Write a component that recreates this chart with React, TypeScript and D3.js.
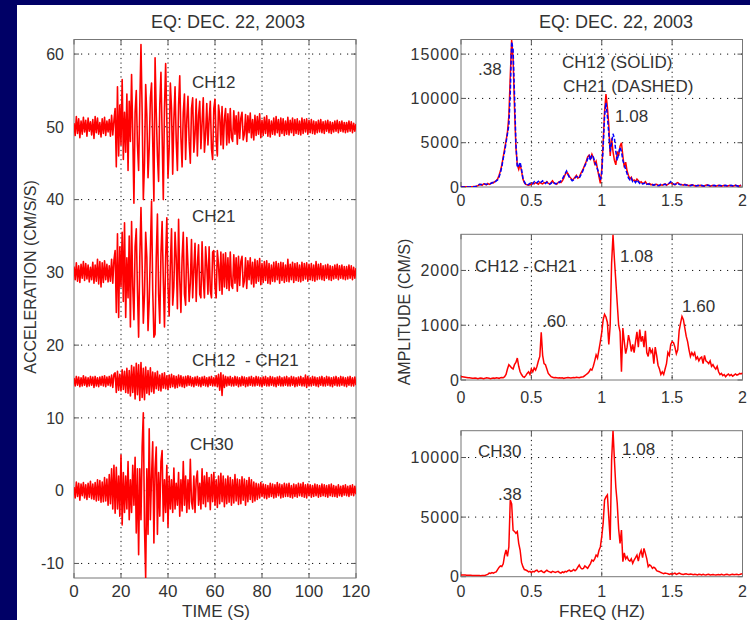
import React from "react";
import * as d3 from "d3";

// ---------- DATA ----------
const timeStep = 0.5; // seconds between samples
const freqStep = 0.01; // Hz between spectral samples

const traceNames = ["CH12", "CH21", "CH12  - CH21", "CH30"];
const traceOffsets = [50, 30, 15, 0];

const ch12 = [
  0.5,-1.2,1.4,-0.9,1.1,-1.5,0.8,-1.0,1.3,-0.7,
  0.9,-1.3,1.2,-0.6,0.7,-1.1,1.0,-1.6,1.4,-0.8,
  1.2,-1.0,0.6,-1.4,1.1,-0.9,1.3,-1.2,0.8,-0.7,
  1.0,-1.3,1.6,-1.1,0.9,
  2.5,-5.5,5.5,-4.0,3.0,-2.5,6.5,-4.5,2.0,-3.5,
  4.5,-6.0,3.5,-2.0,7.2,-1.0,-10.5,2.0,5.0,-2.5,
  -6.0,3.0,11.3,2.0,-10.0,-5.0,5.8,1.5,-7.0,-3.0,
  4.0,6.0,-2.0,-10.2,9.5,2.0,-4.0,-7.5,3.0,7.5,
  -1.0,-10.0,2.5,8.7,1.0,-7.0,-3.0,6.0,2.5,-6.5,
  1.0,5.5,-2.0,-6.0,3.0,7.0,-1.5,-5.5,2.0,4.5,
  -4.5,1.0,4.2,-2.0,-5.0,2.5,4.0,-3.5,-1.0,3.8,
  -4.0,1.5,3.5,-3.0,0.5,4.0,-3.5,-1.0,3.2,-2.5,
  1.0,3.5,-3.0,-4.5,2.5,3.8,-2.0,-4.0,3.0,1.5,
  -2.5,2.8,-3.0,1.0,2.5,-2.5,
  1.8,-2.2,2.5,-1.5,-2.0,2.2,-1.0,1.5,-2.4,2.0,
  -1.6,1.2,2.0,-1.8,-1.0,1.7,-2.0,1.5,-0.8,1.9,
  -1.5,1.0,-1.8,1.6,-1.2,1.4,-1.0,1.8,-1.5,0.9,
  -1.2,1.3,-0.9,1.5,-1.3,1.0,-1.4,0.8,-1.0,1.2,
  -1.1,1.4,-0.8,1.0,-1.3,1.2,-0.9,1.1,-1.2,0.8,
  -1.0,1.3,-1.1,0.9,-0.8,1.2,-1.2,1.0,-0.9,1.1,
  -1.0,0.8,-1.1,1.2,-0.9,1.0,-0.7,1.1,-1.0,0.9,
  -0.8,1.0,-0.9,0.8,-1.0,0.7,-0.8,0.9,-0.7,1.0,
  -0.8,0.7,-0.9,0.8,-0.6,0.9,-0.8,0.7,-0.9,0.6,
  -0.7,0.8,-0.6,0.9,-0.8,0.7,-0.6,0.8,-0.7,0.6,
  -0.8,0.6,-0.7,0.8,-0.6,0.7,-0.8,0.5,-0.6,0.4,
];

const ch21 = [
  0.8,-1.0,1.3,-1.2,0.9,-1.4,1.1,-0.8,1.5,-1.1,
  1.2,-0.9,1.0,-1.3,0.7,-1.0,1.4,-1.5,1.0,-1.2,
  1.8,-1.6,1.5,-2.0,1.3,-1.4,1.6,-1.0,1.1,-1.3,
  0.9,-1.2,1.8,-1.5,1.7,
  3.0,-5.5,5.3,-6.2,3.5,-2.0,5.5,-4.0,6.8,-6.2,
  2.0,-3.5,5.0,-7.5,7.0,-2.0,-6.5,3.5,6.0,-2.5,
  -8.9,2.0,8.9,1.0,-7.0,-3.0,5.5,2.0,-8.0,-4.0,
  3.0,9.8,-2.5,-8.9,-8.5,2.0,8.0,-3.0,-7.0,2.5,
  7.0,-1.0,-7.5,2.0,7.5,-2.0,-6.0,1.0,6.0,-4.5,
  -2.0,5.5,2.0,-5.0,7.3,-1.0,-5.5,2.0,5.5,-3.0,
  -4.5,4.8,1.0,-4.0,-1.5,4.5,-3.5,0.5,4.0,-4.0,
  1.0,3.8,-3.0,-3.5,4.2,-1.0,-3.5,3.5,1.0,-3.0,
  3.5,-2.5,-3.5,2.8,3.0,-2.0,-3.5,3.0,1.0,-2.5,
  2.8,-3.0,2.5,-2.0,2.7,-2.2,
  2.0,-2.5,2.8,-1.8,-2.2,2.4,-1.5,2.0,-2.6,2.2,
  -1.8,1.5,2.2,-2.0,-1.2,2.0,-2.2,1.6,-1.0,2.0,
  -1.6,1.4,-2.0,1.8,-1.5,1.6,-1.2,1.9,-1.7,1.2,
  -1.4,1.5,-1.1,1.6,-1.5,1.2,-1.6,1.0,-1.2,1.4,
  -1.3,1.5,-1.0,1.2,-1.5,1.4,-1.1,1.3,-1.4,1.0,
  -1.2,1.8,-1.3,1.1,-1.0,1.4,-1.4,1.2,-1.1,1.3,
  -1.2,1.0,-1.3,1.4,-1.1,1.2,-0.9,1.3,-1.2,1.1,
  -1.0,1.2,-1.1,1.0,-1.2,1.5,-1.0,1.1,-0.9,1.2,
  -1.0,0.9,-1.1,1.0,-0.8,1.1,-1.0,0.9,-1.1,0.8,
  -0.9,1.0,-0.8,1.1,-1.0,0.9,-0.8,1.0,-0.9,0.8,
  -1.0,0.8,-0.9,1.0,-0.8,0.9,-1.0,0.7,-0.8,0.6,
];

const ch12MinusCh21 = [
  0.5,-0.6,0.7,-0.5,0.6,-0.7,0.5,-0.6,0.8,-0.5,
  0.6,-0.7,0.5,-0.6,0.7,-0.5,0.6,-0.8,0.7,-0.6,
  0.5,-0.7,0.6,-0.5,0.7,-0.6,0.8,-0.7,0.6,-0.5,
  0.7,-0.6,0.9,-0.8,1.0,
  1.2,-1.5,1.4,-1.2,1.0,-1.3,1.6,-1.1,1.4,-1.5,
  1.8,-1.6,1.5,-2.0,2.2,-1.5,2.0,-2.4,2.5,-1.8,
  2.3,-2.6,2.6,-2.2,1.8,-2.5,2.0,-1.6,1.5,-1.8,
  1.9,-1.4,1.3,-1.6,1.2,-1.0,1.4,-1.2,0.9,-1.3,
  1.1,-0.9,1.2,-1.0,0.8,-1.1,0.9,-0.8,1.0,-0.7,
  0.8,-0.9,0.7,-0.8,0.9,-0.6,0.8,-0.7,0.6,-0.8,
  0.7,-0.6,0.8,-0.5,0.7,-0.6,0.5,-0.7,0.6,-0.5,
  0.7,-0.6,0.5,-0.7,0.6,-0.5,0.7,-0.6,0.5,-0.7,
  0.6,-0.5,0.7,-0.6,0.5,-0.6,0.8,-0.7,1.0,-1.2,
  1.2,-1.9,0.9,-0.8,0.7,-0.6,
  0.6,-0.5,0.7,-0.6,0.5,-0.6,0.7,-0.5,0.6,-0.7,
  0.5,-0.6,0.7,-0.5,0.6,-0.7,0.5,-0.6,0.6,-0.5,
  0.7,-0.6,0.5,-0.6,0.7,-0.5,0.6,-0.6,0.5,-0.7,
  0.6,-0.5,0.7,-0.6,0.5,-0.6,0.7,-0.5,0.6,-0.6,
  0.5,-0.7,0.6,-0.5,0.7,-0.6,0.5,-0.6,0.6,-0.5,
  0.7,-0.6,0.5,-0.6,0.7,-0.5,0.6,-0.7,0.5,-0.6,
  0.6,-0.5,0.7,-0.6,0.5,-0.6,0.9,-0.8,0.7,-0.6,
  0.5,-0.6,0.7,-0.5,0.6,-0.6,0.5,-0.7,0.6,-0.5,
  0.7,-0.6,0.5,-0.6,0.7,-0.5,0.6,-0.6,0.5,-0.7,
  0.6,-0.5,0.7,-0.6,0.5,-0.6,0.7,-0.5,0.6,-0.6,
  0.5,-0.7,0.6,-0.5,0.7,-0.6,0.5,-0.6,0.6,-0.5,
];

const ch30 = [
  0.5,-1.0,1.2,-0.8,1.0,-1.3,0.9,-0.7,1.1,-1.0,
  0.8,-1.2,1.0,-0.9,1.3,-1.1,0.9,-1.2,1.1,-1.4,
  1.5,-1.3,1.4,-1.6,1.2,-1.5,1.8,-1.4,1.6,-2.0,
  2.2,-1.8,3.0,-2.5,3.5,
  -3.1,3.2,-2.5,2.0,-3.5,4.9,-4.7,2.5,-3.0,2.0,
  -2.5,4.0,-4.0,1.5,-3.0,3.5,-2.0,4.6,-5.8,3.0,
  -8.8,3.0,-4.0,6.0,10.7,-5.0,-12.0,3.0,-6.0,8.5,
  -4.0,2.0,6.7,-7.2,3.0,6.0,-6.0,2.5,-3.5,4.0,
  5.5,-4.2,1.5,-3.0,3.5,-5.0,2.0,-2.5,1.5,-3.0,
  3.1,-2.5,1.0,-2.0,2.5,-3.5,1.5,-2.8,4.0,-2.0,
  2.0,-3.0,1.5,-2.5,4.3,-1.5,-2.5,2.0,-3.0,1.5,
  2.7,-2.0,1.0,-2.5,3.0,-1.8,2.0,-2.2,2.5,-1.5,
  1.8,-2.6,2.2,-1.5,2.5,-2.0,1.5,-2.3,2.0,-1.8,
  2.4,-1.5,2.0,-2.2,1.6,-1.8,
  2.0,-1.6,1.8,-2.0,1.5,-1.7,2.2,-1.4,1.6,-1.9,
  1.5,-1.8,1.9,-1.3,1.6,-2.0,1.4,-1.5,1.8,-1.2,
  1.5,-1.6,1.2,-1.4,1.0,-1.2,0.9,-1.0,1.1,-0.8,
  0.9,-1.0,0.8,-1.1,0.7,-0.9,1.0,-0.8,0.9,-1.0,
  0.8,-0.9,1.1,-0.7,0.9,-1.0,0.8,-0.9,1.0,-0.8,
  0.9,-0.8,1.0,-0.9,0.7,-1.0,0.9,-0.8,0.8,-0.9,
  1.0,-0.7,0.9,-0.8,1.1,-0.9,0.8,-1.0,0.9,-0.7,
  0.8,-0.9,0.7,-0.8,0.9,-0.7,0.8,-0.9,0.7,-0.8,
  0.9,-0.7,0.8,-0.8,0.7,-0.9,0.8,-0.7,0.9,-0.8,
  0.7,-0.8,0.6,-0.9,0.8,-0.7,0.6,-0.8,0.7,-0.6,
  0.8,-0.7,0.6,-0.8,0.7,-0.6,0.8,-0.7,0.6,-0.5,
];

// Fourier amplitude spectra, 0.00 .. 2.00 Hz
const specCh12 = [
  50,40,30,30,40,30,20,30,40,50,60,
  80,150,250,300,200,350,300,250,400,300,
  350,500,450,600,700,900,1300,1800,2500,3400,
  4300,5200,6200,8000,12500,16600,14500,9000,4500,2500,
  2000,2600,1800,900,500,300,250,200,250,300,
  450,350,500,400,300,550,400,350,500,450,
  600,400,350,500,700,450,400,300,500,600,
  500,700,1000,1400,1700,1500,1200,1000,800,900,
  1100,1300,1000,1100,1500,1800,2100,2500,2900,3400,
  3600,3200,3700,3300,2600,2900,2000,1200,400,2000,
  5000,8500,10500,9000,7000,3500,5500,4000,3000,2500,
  4000,3500,4600,5000,3500,2200,2800,1800,1300,900,
  1100,700,800,600,900,700,500,600,400,450,
  600,350,300,400,250,300,200,250,300,200,
  150,250,200,300,350,200,300,400,500,350,
  300,250,400,500,350,300,250,200,300,250,
  200,150,200,250,200,150,100,200,150,200,
  150,100,150,200,250,150,100,150,200,150,
  100,150,200,150,100,150,200,150,100,150,
  200,150,100,150,200,150,100,150,200,
];

const specCh21 = [
  0,0,10,10,20,10,10,20,30,40,50,
  100,200,300,250,300,400,350,300,300,350,
  400,450,550,500,700,800,1100,1600,2300,3200,
  4000,5000,6000,7000,10500,16400,15500,10500,5000,2200,
  2400,2800,2000,1000,600,300,200,300,400,500,
  350,600,400,500,650,450,550,700,500,400,
  550,450,300,400,600,500,350,400,600,500,
  700,900,1200,1500,1800,1400,1100,900,700,800,
  1000,1200,1100,1000,1300,1600,2000,2400,2700,3200,
  3500,3000,3600,3400,2800,2500,2000,1500,800,1500,
  4500,8000,9500,8000,6000,4000,5000,6000,5500,4000,
  3000,3800,4500,4000,3000,2500,2000,1500,1000,800,
  1000,600,700,500,800,600,400,500,350,400,
  500,300,350,300,200,250,200,300,250,150,
  200,300,250,250,300,250,350,450,600,400,
  350,300,350,450,300,250,300,250,250,200,
  250,200,150,200,250,200,150,150,200,150,
  200,150,100,150,200,200,150,100,150,200,
  150,100,150,200,150,100,150,200,150,100,
  150,200,150,100,200,150,100,150,250,
];

const specDiff = [
  60,60,55,50,45,40,40,35,30,30,35,
  30,25,30,35,30,25,30,40,35,30,
  25,30,35,30,40,35,30,40,45,40,
  60,100,200,280,250,220,200,280,320,400,
  250,150,100,60,50,80,120,150,100,200,
  150,220,180,250,350,430,870,450,300,280,
  200,120,90,60,50,40,45,40,35,40,
  35,40,30,35,40,45,40,35,40,45,
  40,50,45,40,50,55,60,80,100,120,
  150,200,180,250,350,460,400,550,700,870,
  1100,1200,1150,1050,650,1000,2130,2650,2200,1800,
  1400,1000,880,150,950,700,480,600,820,700,
  520,650,500,700,880,600,920,700,800,600,
  900,500,430,600,500,550,300,600,450,270,
  200,100,150,100,200,300,500,450,650,700,
  680,600,480,550,900,1040,1160,1100,950,800,
  700,550,430,500,450,500,380,420,350,400,
  420,300,450,350,330,300,350,250,280,230,
  200,250,150,100,120,80,100,60,90,110,
  80,100,70,90,110,90,100,120,110,130,
];

const specCh30 = [
  150,150,140,140,130,130,120,120,110,110,100,
  100,110,100,90,100,110,100,150,200,300,
  280,350,300,360,400,600,780,900,850,1080,
  1800,2240,1700,2500,6440,6100,3900,3800,3640,3780,
  2800,2240,1200,840,600,560,500,400,450,350,
  450,400,500,550,400,450,500,400,350,450,
  550,450,400,350,450,400,350,400,450,350,
  300,400,350,450,400,500,550,450,500,600,
  500,600,800,980,750,650,700,900,800,700,
  900,1100,1400,1300,1500,1820,1700,2200,2500,3360,
  4500,6440,6700,6860,5000,3080,9800,12270,9800,7500,
  6160,4000,2800,3920,1260,2000,1500,1680,1400,1300,
  1500,1120,1400,1600,1820,1300,1900,2200,1600,2380,
  1960,1500,840,1000,900,700,800,700,500,450,
  420,350,300,250,300,280,250,200,250,220,
  250,300,200,250,300,250,200,180,220,250,
  200,180,220,200,170,200,180,150,200,180,
  150,200,170,150,180,200,150,170,180,160,
  150,170,180,150,200,170,150,180,200,170,
  150,180,200,160,180,200,170,190,220,250,
];

const timeTicks = [0, 20, 40, 60, 80, 100, 120];
const accelTicks = [-10, 0, 10, 20, 30, 40, 50, 60];
const freqTicks = [0, 0.5, 1, 1.5, 2];
const freqTickLabels = ["0", "0.5", "1", "1.5", "2"];
const specTicksTop = [0, 5000, 10000, 15000];
const specTicksMid = [0, 1000, 2000];
const specTicksBot = [0, 5000, 10000];

const titleText = "EQ: DEC. 22, 2003";

// ---------- DRAWING ----------
const FONT = "'Liberation Sans', Arial, Helvetica, sans-serif";
const TXT = "#333";

type AxesProps = {
  xs: d3.ScaleLinear<number, number>;
  ys: d3.ScaleLinear<number, number>;
  xTicks: number[];
  xLabels: string[];
  yTicks: number[];
  xLabelY: number;
  xFont: number;
  yLabelX: number;
  yFont: number;
  yLetter?: number;
};

function Axes({ xs, ys, xTicks, xLabels, yTicks, xLabelY, xFont, yLabelX, yFont, yLetter = 0 }: AxesProps) {
  const [x0, x1] = xs.range();
  const [y0, y1] = ys.range(); // y0 bottom, y1 top
  const tl = 5;
  return (
    <g>
      {xTicks.filter((t) => xs(t) > x0 + 2 && xs(t) < x1 - 2).map((t) => (
        <line key={"gx" + t} x1={xs(t)} x2={xs(t)} y1={y1} y2={y0} stroke="#111" strokeWidth={1} strokeDasharray="1.2,3.4" />
      ))}
      {yTicks.filter((t) => ys(t) < y0 - 2 && ys(t) > y1 + 2).map((t) => (
        <line key={"gy" + t} x1={x0} x2={x1} y1={ys(t)} y2={ys(t)} stroke="#111" strokeWidth={1} strokeDasharray="1.2,5.8" />
      ))}
      {xTicks.map((t) => (
        <g key={"tx" + t}>
          <line x1={xs(t)} x2={xs(t)} y1={y0} y2={y0 - tl} stroke="#555" />
          <line x1={xs(t)} x2={xs(t)} y1={y1} y2={y1 + tl} stroke="#555" />
        </g>
      ))}
      {yTicks.map((t) => (
        <g key={"ty" + t}>
          <line x1={x0} x2={x0 + tl} y1={ys(t)} y2={ys(t)} stroke="#555" />
          <line x1={x1} x2={x1 - tl} y1={ys(t)} y2={ys(t)} stroke="#555" />
        </g>
      ))}
      <rect x={x0} y={y1} width={x1 - x0} height={y0 - y1} fill="none" stroke="#777" strokeWidth={1} />
      {xTicks.map((t, i) => (
        <text key={"lx" + t} x={xs(t)} y={xLabelY} textAnchor="middle" fontSize={xFont} fill={TXT} fontFamily={FONT}>
          {xLabels[i]}
        </text>
      ))}
      {yTicks.map((t) => (
        <text key={"ly" + t} x={yLabelX} y={ys(t)} dy="0.36em" textAnchor="end" fontSize={yFont} fill={TXT} fontFamily={FONT} letterSpacing={yLetter}>
          {String(t)}
        </text>
      ))}
    </g>
  );
}

function Label({ x, y, children, size = 17 }: { x: number; y: number; children: React.ReactNode; size?: number }) {
  return (
    <text x={x} y={y} fontSize={size} fill={TXT} fontFamily={FONT} style={{ whiteSpace: "pre" }}>
      {children}
    </text>
  );
}

export default function App() {
  // Left: time histories
  const xt = d3.scaleLinear().domain([0, 120]).range([74, 356]);
  const ya = d3.scaleLinear().domain([-12, 62]).range([578, 39.5]);
  const traces = [ch12, ch21, ch12MinusCh21, ch30];
  const traceLine = (arr: number[], off: number) =>
    d3.line<number>().x((_, i) => xt(i * timeStep)).y((v) => ya(v + off))(arr) || "";

  // Right: spectra
  const xf = d3.scaleLinear().domain([0, 2]).range([461, 742.5]);
  const yTop = d3.scaleLinear().domain([0, 16650]).range([187, 39.5]);
  const yMid = d3.scaleLinear().domain([0, 2660]).range([380, 234.3]);
  const yBot = d3.scaleLinear().domain([0, 12250]).range([576.7, 430.7]);
  const specLine = (arr: number[], ys: d3.ScaleLinear<number, number>) =>
    d3.line<number>().x((_, i) => xf(i * freqStep)).y((v) => ys(v))(arr) || "";

  return (
    <svg width={750} height={620} style={{ position: "fixed", left: 0, top: 0 }} xmlns="http://www.w3.org/2000/svg">
      <rect x={0} y={0} width={750} height={620} fill="#000066" />
      <rect x={17} y={5} width={733} height={615} fill="#ffffff" />
      <defs>
        <clipPath id="clipL"><rect x={74} y={39.5} width={282} height={538.5} /></clipPath>
        <clipPath id="clipT"><rect x={461} y={39.5} width={281.5} height={147.5} /></clipPath>
        <clipPath id="clipM"><rect x={461} y={234.3} width={281.5} height={145.7} /></clipPath>
        <clipPath id="clipB"><rect x={461} y={430.7} width={281.5} height={146} /></clipPath>
      </defs>

      {/* Titles */}
      <text x={228} y={28} textAnchor="middle" fontSize={18} fill={TXT} fontFamily={FONT}>{titleText}</text>
      <text x={616} y={28} textAnchor="middle" fontSize={18} fill={TXT} fontFamily={FONT}>{titleText}</text>

      {/* Left panel */}
      <Axes xs={xt} ys={ya} xTicks={timeTicks} xLabels={timeTicks.map(String)} yTicks={accelTicks}
        xLabelY={597} xFont={17} yLabelX={64} yFont={16} />
      <g clipPath="url(#clipL)">
        {traces.map((arr, k) => (
          <path key={k} d={traceLine(arr, traceOffsets[k])} fill="none" stroke="#ff0000" strokeWidth={1.6} strokeLinejoin="round" />
        ))}
      </g>
      <Label x={192} y={88}>{traceNames[0]}</Label>
      <Label x={192} y={222}>{traceNames[1]}</Label>
      <Label x={192} y={366}>{traceNames[2]}</Label>
      <Label x={190} y={450}>{traceNames[3]}</Label>
      <text x={216} y={617} textAnchor="middle" fontSize={17} fill={TXT} fontFamily={FONT}>TIME (S)</text>
      <text transform="translate(36,277) rotate(-90)" textAnchor="middle" fontSize={16} fill={TXT} fontFamily={FONT}>ACCELERATION (CM/S/S)</text>

      {/* Right top */}
      <Axes xs={xf} ys={yTop} xTicks={freqTicks} xLabels={freqTickLabels} yTicks={specTicksTop}
        xLabelY={206} xFont={16} yLabelX={460} yFont={16} yLetter={1} />
      <g clipPath="url(#clipT)">
        <path d={specLine(specCh12, yTop)} fill="none" stroke="#ff0000" strokeWidth={1.5} />
        <path d={specLine(specCh21, yTop)} fill="none" stroke="#0000ff" strokeWidth={1.5} strokeDasharray="4,2" />
      </g>
      <Label x={478} y={75}>.38</Label>
      <Label x={562} y={68}>CH12 (SOLID)</Label>
      <Label x={563} y={92}>CH21 (DASHED)</Label>
      <Label x={615} y={122}>1.08</Label>

      {/* Right middle */}
      <Axes xs={xf} ys={yMid} xTicks={freqTicks} xLabels={freqTickLabels} yTicks={specTicksMid}
        xLabelY={403} xFont={16} yLabelX={460} yFont={16} yLetter={1} />
      <g clipPath="url(#clipM)">
        <path d={specLine(specDiff, yMid)} fill="none" stroke="#ff0000" strokeWidth={1.5} />
      </g>
      <Label x={475} y={272}>CH12 - CH21</Label>
      <Label x={620} y={262}>1.08</Label>
      <Label x={542} y={327}>.60</Label>
      <Label x={682} y={312}>1.60</Label>
      <text transform="translate(410,312) rotate(-90)" textAnchor="middle" fontSize={16} fill={TXT} fontFamily={FONT}>AMPLITUDE (CM/S)</text>

      {/* Right bottom */}
      <Axes xs={xf} ys={yBot} xTicks={freqTicks} xLabels={freqTickLabels} yTicks={specTicksBot}
        xLabelY={597} xFont={16} yLabelX={460} yFont={16} yLetter={1} />
      <g clipPath="url(#clipB)">
        <path d={specLine(specCh30, yBot)} fill="none" stroke="#ff0000" strokeWidth={1.5} />
      </g>
      <Label x={478} y={457}>CH30</Label>
      <Label x={622} y={455}>1.08</Label>
      <Label x={498} y={500}>.38</Label>
      <text x={602} y={617} textAnchor="middle" fontSize={17} fill={TXT} fontFamily={FONT}>FREQ (HZ)</text>
    </svg>
  );
}
